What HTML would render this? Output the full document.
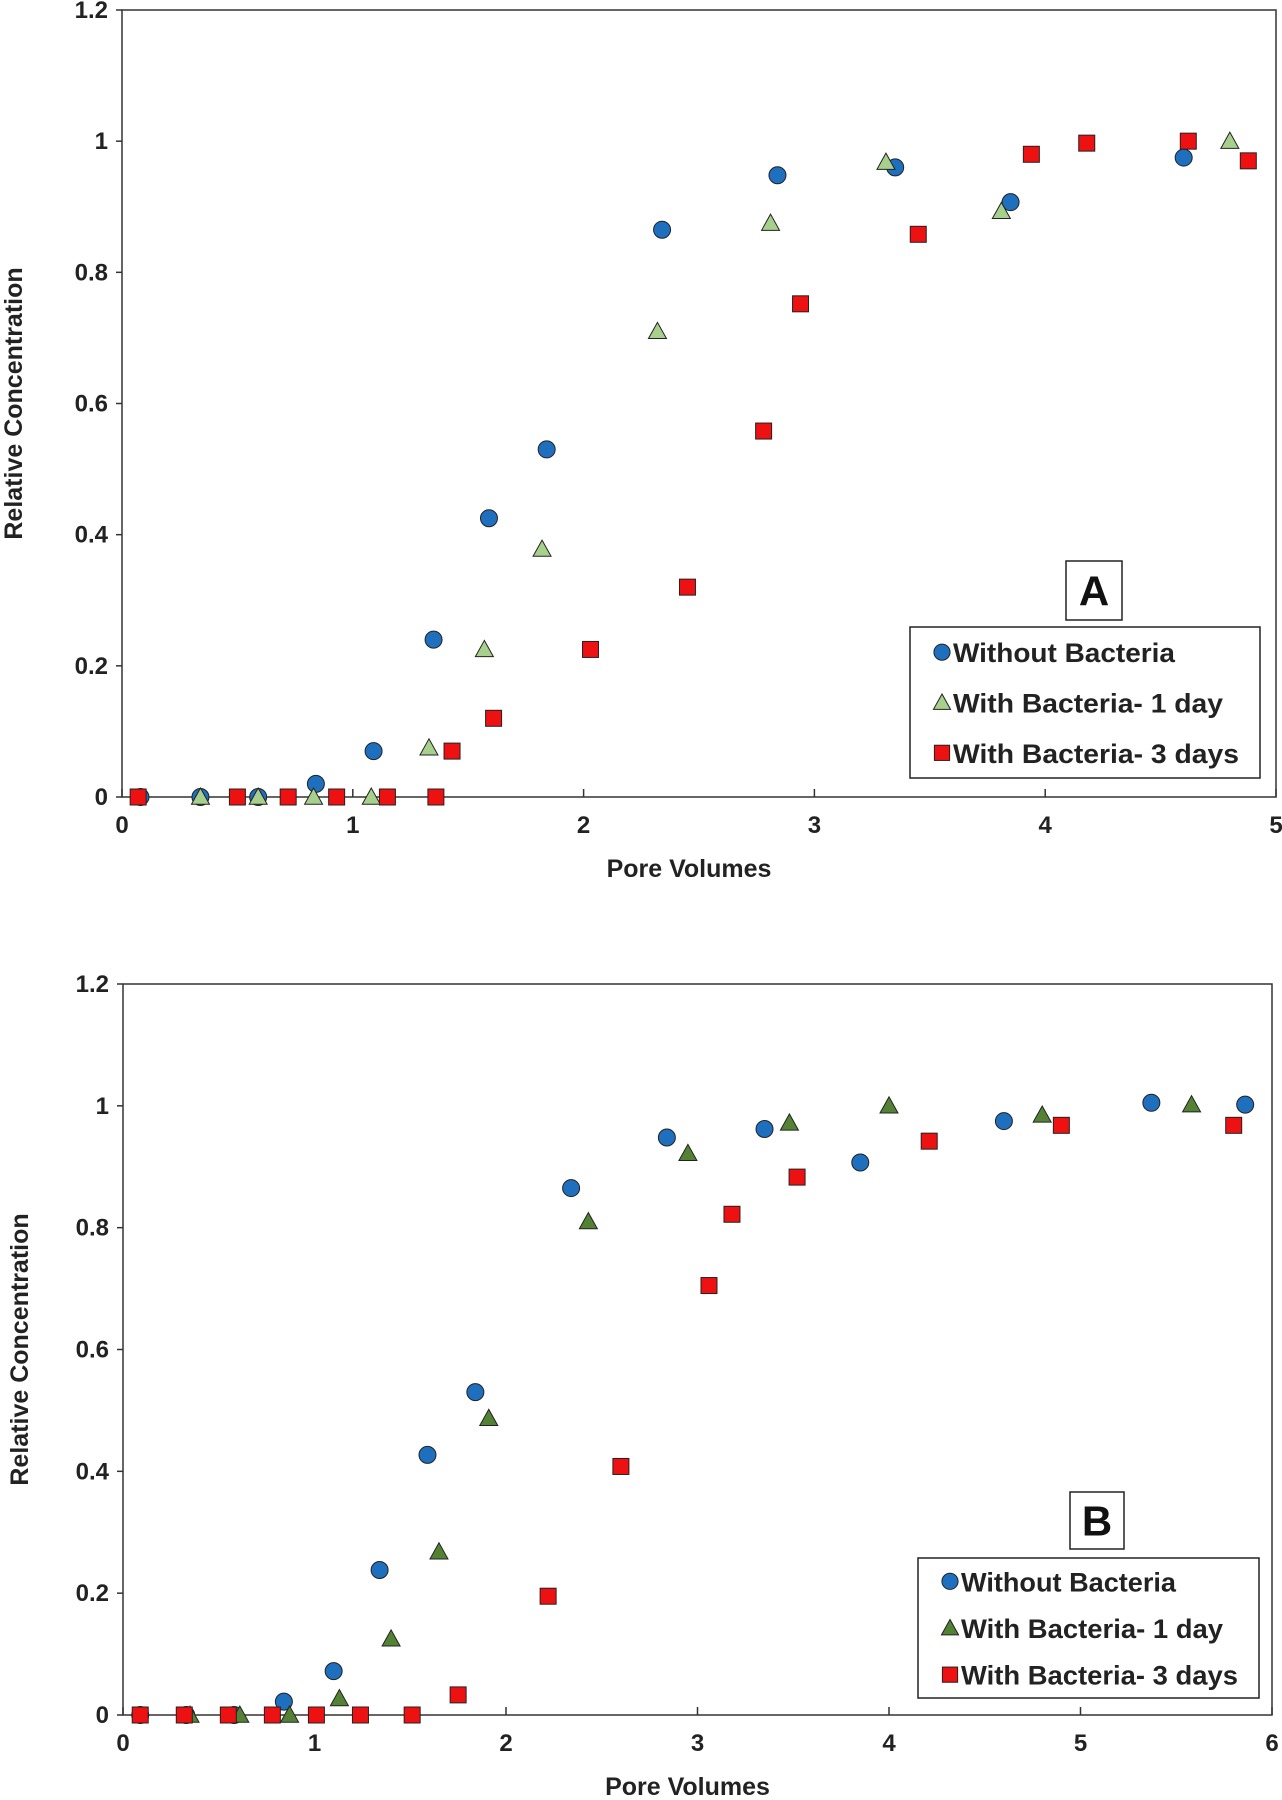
<!DOCTYPE html>
<html><head><meta charset="utf-8"><style>
html,body{margin:0;padding:0;background:#fff;}
svg{display:block;font-family:"Liberation Sans",Arial,sans-serif;}
</style></head><body>
<svg id="c" width="1282" height="1800" viewBox="0 0 1282 1800" xmlns="http://www.w3.org/2000/svg"></svg>
<script>
const aCircX=[0.08,0.34,0.59,0.84,1.09,1.35,1.59,1.84,2.34,2.84,3.35,3.85,4.6];
const aCircY=[0,0,0,0.02,0.07,0.24,0.425,0.53,0.865,0.948,0.96,0.907,0.975];
const aTriX=[0.34,0.59,0.83,1.08,1.33,1.57,1.82,2.32,2.81,3.31,3.81,4.8];
const aTriY=[0,0,0,0,0.075,0.225,0.378,0.71,0.875,0.968,0.893,1.0];
const aSqX=[0.07,0.5,0.72,0.93,1.15,1.36,1.43,1.61,2.03,2.45,2.78,2.94,3.45,3.94,4.18,4.62,4.88];
const aSqY=[0,0,0,0,0,0,0.07,0.12,0.225,0.32,0.558,0.752,0.858,0.98,0.997,1.0,0.97];
const bCircX=[0.09,0.33,0.58,0.84,1.1,1.34,1.59,1.84,2.34,2.84,3.35,3.85,4.6,5.37,5.86];
const bCircY=[0,0,0,0.022,0.072,0.238,0.427,0.53,0.865,0.948,0.962,0.907,0.975,1.005,1.002];
const bTriX=[0.35,0.61,0.87,1.13,1.4,1.65,1.91,2.43,2.95,3.48,4.0,4.8,5.58];
const bTriY=[0,0,0,0.027,0.125,0.268,0.487,0.81,0.922,0.972,1.0,0.985,1.002];
const bSqX=[0.09,0.32,0.55,0.78,1.01,1.24,1.51,1.75,2.22,2.6,3.06,3.18,3.52,4.21,4.9,5.8];
const bSqY=[0,0,0,0,0,0,0,0.033,0.195,0.408,0.705,0.822,0.883,0.942,0.968,0.968];
const aXTicks=["0","1","2","3","4","5"];
const bXTicks=["0","1","2","3","4","5","6"];
const yTicks=["0","0.2","0.4","0.6","0.8","1","1.2"];
const legendLabels=["Without Bacteria","With Bacteria- 1 day","With Bacteria- 3 days"];

const NS="http://www.w3.org/2000/svg";
const svg=document.getElementById('c');
function mk(tag,attrs,parent,text){const e=document.createElementNS(NS,tag);for(const k in attrs)e.setAttribute(k,attrs[k]);if(text!==undefined)e.textContent=text;(parent||svg).appendChild(e);return e;}

function marker(g,type,cx,cy,fill,s){
  let e;
  if(type==='c'){e=mk('circle',{cx:cx,cy:cy,r:8.5*s,fill:fill,stroke:'#222','stroke-width':1},g);}
  else if(type==='t'){const h=9*s;e=mk('polygon',{points:`${cx},${cy-h} ${cx-h},${cy+h*0.8} ${cx+h},${cy+h*0.8}`,fill:fill,stroke:'#222','stroke-width':1},g);}
  else {const h=8*s;e=mk('rect',{x:cx-h,y:cy-h,width:2*h,height:2*h,fill:fill,stroke:'#222','stroke-width':1},g);}
  return e;
}

function chart(cfg){
  const {L,R,T,B,xmax,xt,name}=cfg;
  const g=mk('g',{});
  
  
  const sx=v=>L+(R-L)*v/xmax;
  const sy=v=>B-(B-T)*v/1.2;
  const frame=mk('rect',{x:L,y:T,width:R-L,height:B-T,fill:'none',stroke:'#333','stroke-width':1.5},g);
  
  
  yTicks.forEach((t,i)=>{
    const y=sy(i*0.2);
    mk('line',{x1:L-6,x2:L,y1:y,y2:y,stroke:'#333','stroke-width':1.5},g);
    const tx=mk('text',{x:L-14,y:y+8,'text-anchor':'end','font-size':24,'font-weight':'bold',fill:'#222'},g,t);
    
    
  });
  xt.forEach((t,i)=>{
    const x=sx(i);
    mk('line',{x1:x,x2:x,y1:B,y2:B-8,stroke:'#333','stroke-width':1.5},g);
    const tx=mk('text',{x:x,y:B+36,'text-anchor':'middle','font-size':24,'font-weight':'bold',fill:'#222'},g,t);
    
    
  });
  const xtitle=mk('text',{x:(L+R)/2-10,y:B+80,'text-anchor':'middle','font-size':25,'font-weight':'bold',fill:'#222'},g,'Pore Volumes');
  
  
  const yc=(T+B)/2;
  const ytitle=mk('text',{x:0,y:0,transform:`translate(${cfg.yx},${yc}) rotate(-90)`,'text-anchor':'middle','font-size':25,'font-weight':'bold',fill:'#222'},g,'Relative Concentration');
  
  
  const series=[['c',cfg.cx,cfg.cy,'#1f6fbf','series-without-bacteria'],['t',cfg.tx,cfg.ty,cfg.tri,'series-bacteria-1-day'],['s',cfg.qx,cfg.qy,'#ee1111','series-bacteria-3-days']];
  series.forEach(([type,xs,ys,fill,nm])=>{
    const sg=mk('g',{},g);
    
    
    xs.forEach((v,i)=>{
      const m=marker(sg,type,sx(v),sy(ys[i]),fill,1);
      
      
    });
  });
  const lb=cfg.lbox;
  const badge=mk('g',{},g);
  
  
  mk('rect',{x:lb[0],y:lb[1],width:lb[2],height:lb[3],fill:'#fff',stroke:'#222','stroke-width':1.5},badge);
  mk('text',{x:lb[0]+lb[2]/2,y:lb[1]+lb[3]/2+15,'text-anchor':'middle','font-size':42,'font-weight':'bold',fill:'#111'},badge,cfg.letter);
  const lg=cfg.leg;
  const leg=mk('g',{},g);
  
  
  mk('rect',{x:lg[0],y:lg[1],width:lg[2],height:lg[3],fill:'#fff',stroke:'#222','stroke-width':1.5},leg);
  const step=lg[3]/3;
  legendLabels.forEach((t,i)=>{
    const y=lg[1]+step*(i+0.5);
    const eg=mk('g',{},leg);
    
    
    marker(eg,series[i][0],lg[0]+32,y,series[i][3],0.95);
    mk('text',{x:lg[0]+43,y:y+10,'font-size':27,'font-weight':'bold',fill:'#222',textLength:cfg.tl[i],lengthAdjust:'spacingAndGlyphs'},eg,t);
  });
}

chart({name:'chart-a',L:122,R:1276,T:10,B:797,xmax:5,xt:aXTicks,yx:22,
  cx:aCircX,cy:aCircY,tx:aTriX,ty:aTriY,qx:aSqX,qy:aSqY,tri:'#a8d08d',
  letter:'A',lbox:[1066,561,56,59],leg:[910,627,350,151],tl:[222,270,286]});
chart({name:'chart-b',L:123,R:1272,T:984,B:1715,xmax:6,xt:bXTicks,yx:28,
  cx:bCircX,cy:bCircY,tx:bTriX,ty:bTriY,qx:bSqX,qy:bSqY,tri:'#548235',
  letter:'B',lbox:[1070,1492,54,57],leg:[918,1558,341,140],tl:[215,262,277]});
</script>
</body></html>
